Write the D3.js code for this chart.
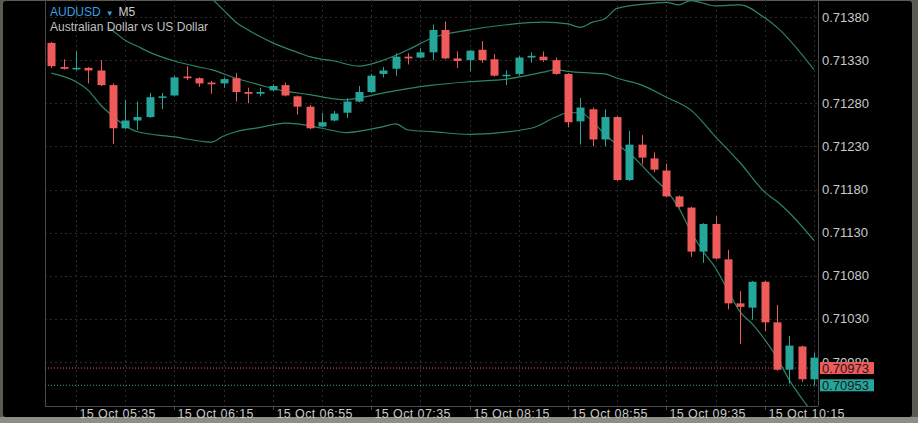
<!DOCTYPE html>
<html><head><meta charset="utf-8">
<script src="https://cdn.jsdelivr.net/npm/d3@7"></script>
<style>html,body{margin:0;padding:0;background:#000;overflow:hidden}svg{display:block}</style>
</head><body><svg id="c" width="918" height="423"></svg>
<script>
// ---------- DATA ----------
const symbol = "AUDUSD";
const timeframe = "M5";
const description = "Australian Dollar vs US Dollar";
const dateLabel = "15 Oct";
const times = ["05:25","05:30","05:35","05:40","05:45","05:50","05:55",
"06:00","06:05","06:10","06:15","06:20","06:25","06:30","06:35","06:40","06:45","06:50","06:55",
"07:00","07:05","07:10","07:15","07:20","07:25","07:30","07:35","07:40","07:45","07:50","07:55",
"08:00","08:05","08:10","08:15","08:20","08:25","08:30","08:35","08:40","08:45","08:50","08:55",
"09:00","09:05","09:10","09:15","09:20","09:25","09:30","09:35","09:40","09:45","09:50","09:55",
"10:00","10:05","10:10","10:15","10:20","10:25","10:30","10:35"];
const open = [0.71350,0.71322,0.71320,0.71321,0.71318,0.71301,0.71251,0.71260,0.71264,0.71287,
0.71289,0.71311,0.71309,0.71304,0.71303,0.71309,0.71293,0.71291,0.71295,0.71301,
0.71288,0.71276,0.71253,0.71260,0.71269,0.71282,0.71293,0.71314,0.71320,0.71334,
0.71333,0.71339,0.71365,0.71332,0.71330,0.71342,0.71331,0.71312,0.71314,0.71333,
0.71334,0.71330,0.71314,0.71259,0.71273,0.71238,0.71264,0.71191,0.71232,0.71216,
0.71202,0.71172,0.71159,0.71108,0.71140,0.71099,0.71048,0.71043,0.71073,0.71026,
0.70971,0.70998,0.70960];
const high = [0.71351,0.71331,0.71340,0.71322,0.71330,0.71303,0.71284,0.71282,0.71292,0.71292,
0.71312,0.71323,0.71310,0.71306,0.71310,0.71315,0.71298,0.71298,0.71302,0.71304,
0.71289,0.71278,0.71269,0.71271,0.71286,0.71300,0.71314,0.71322,0.71338,0.71338,
0.71344,0.71371,0.71375,0.71340,0.71342,0.71352,0.71337,0.71318,0.71335,0.71339,
0.71340,0.71333,0.71315,0.71286,0.71275,0.71273,0.71265,0.71248,0.71243,0.71223,
0.71210,0.71173,0.71160,0.71141,0.71149,0.71110,0.71062,0.71074,0.71074,0.71046,
0.71010,0.70999,0.70991];
const low = [0.71321,0.71319,0.71318,0.71303,0.71300,0.71233,0.71250,0.71249,0.71263,0.71273,
0.71288,0.71307,0.71299,0.71291,0.71298,0.71282,0.71280,0.71288,0.71294,0.71288,
0.71267,0.71250,0.71252,0.71259,0.71263,0.71281,0.71292,0.71310,0.71312,0.71325,
0.71332,0.71330,0.71331,0.71321,0.71317,0.71327,0.71311,0.71301,0.71312,0.71327,
0.71328,0.71313,0.71252,0.71232,0.71230,0.71230,0.71190,0.71190,0.71209,0.71200,
0.71171,0.71159,0.71102,0.71095,0.71099,0.71041,0.71001,0.71029,0.71016,0.70970,
0.70955,0.70957,0.70953];
const close = [0.71323,0.71320,0.71321,0.71318,0.71301,0.71251,0.71260,0.71264,0.71287,0.71288,
0.71310,0.71309,0.71303,0.71302,0.71308,0.71293,0.71291,0.71293,0.71300,0.71289,
0.71276,0.71251,0.71258,0.71268,0.71282,0.71293,0.71312,0.71318,0.71334,0.71332,
0.71339,0.71365,0.71332,0.71329,0.71341,0.71330,0.71312,0.71313,0.71333,0.71335,
0.71330,0.71314,0.71258,0.71275,0.71238,0.71264,0.71191,0.71232,0.71217,0.71203,
0.71172,0.71160,0.71108,0.71140,0.71100,0.71048,0.71044,0.71073,0.71026,0.70971,
0.70999,0.70960,0.70985];
// Bollinger band readings: [candle index, price]
const bbUpper = [[13,0.71402],[14,0.71388],[15,0.71374],[16,0.71365],[17,0.71357],[18,0.71350],
[20,0.71339],[21,0.71334],[23,0.71329],[25,0.71323],[27,0.71330],[29,0.71342],[31,0.71356],
[34,0.71365],[37,0.71371],[40,0.71374],[42,0.71372],[43,0.71368],[44,0.71374],[45,0.71378],
[46,0.71390],[49,0.71396],[50,0.71397],[51,0.71394],[52,0.71399],[54,0.71393],[56,0.71394],
[58,0.71379],[59,0.71368],[62,0.71319]];
const bbMiddle = [[4.6,0.71368],[5,0.71364],[6,0.71353],[7,0.71346],[8,0.71339],[10,0.71329],[12,0.71322],
[13,0.71319],[15,0.71309],[17,0.71301],[19,0.71294],[21,0.71290],[23,0.71285],[24,0.71284],
[25,0.71286],[27,0.71292],[29,0.71297],[31,0.71301],[34,0.71305],[37,0.71308],[40,0.71316],
[41,0.71319],[42,0.71317],[44,0.71315],[45,0.71314],[46,0.71309],[48,0.71301],[50,0.71287],
[52,0.71272],[54,0.71241],[56,0.71211],[58,0.71177],[59,0.71166],[60,0.71153],[62,0.71121]];
const bbLower = [[0,0.71315],[2,0.71305],[3,0.71295],[4,0.71278],[5,0.71265],[6,0.71254],
[7,0.71247],[10,0.71241],[13,0.71235],[14,0.71242],[15,0.71247],[17,0.71252],[19,0.71257],
[20,0.71256],[22,0.71251],[24,0.71246],[27,0.71253],[28,0.71256],[29,0.71249],[31,0.71247],
[34,0.71244],[39,0.71251],[41,0.71264],[42,0.71269],[43,0.71269],[44,0.71259],[45,0.71244],
[46,0.71232],[47,0.71222],[48,0.71208],[49,0.71193],[50,0.71179],[51,0.71159],[52,0.71131],
[53,0.71108],[54,0.71089],[55,0.71063],[56,0.71038],[57,0.71024],[58,0.71006],[59,0.70985],
[60,0.70959],[61,0.70938],[62,0.70919]];
const priceTicks = [0.71380,0.71330,0.71280,0.71230,0.71180,0.71130,0.71080,0.71030,0.70980];
const timeTicks = ["05:35","06:15","06:55","07:35","08:15","08:55","09:35","10:15"];
const askPrice = 0.70973;
const bidPrice = 0.70953;

// ---------- DRAW ----------
const W = 918, H = 423;
const L = 45, R = 818, T = 0, B = 406;
const svg = d3.select("#c");
const UP = "#26a69a", DN = "#ef5b5b", BAND = "#2e8566";
const FONT = "Liberation Sans, Arial, sans-serif";

// outer frame of screenshot
svg.append("rect").attr("width",W).attr("height",H).attr("fill","#5c5b52");
svg.append("rect").attr("x",0).attr("y",417).attr("width",W).attr("height",6).attr("fill","#8e8d86");
svg.append("rect").attr("x",3).attr("y",1).attr("width",909).attr("height",416).attr("rx",3).attr("fill","#000");

const x = d3.scaleLinear().domain([-0.52, 62.33]).range([L, R]);
const y = d3.scaleLinear().domain([0.70980, 0.71380]).range([362, 17]);

const defs = svg.append("defs");
defs.append("clipPath").attr("id","clip").append("rect").attr("x",L).attr("y",T).attr("width",R-L).attr("height",B-T);

// grid
const grid = svg.append("g").attr("stroke","#2c2c2c").attr("stroke-dasharray","2,3").attr("shape-rendering","crispEdges");
priceTicks.forEach(p => grid.append("line").attr("x1",L).attr("x2",R).attr("y1",Math.round(y(p))+0.5).attr("y2",Math.round(y(p))+0.5));
d3.range(2, times.length, 4).forEach(i => grid.append("line").attr("x1",Math.round(x(i))+0.5).attr("x2",Math.round(x(i))+0.5).attr("y1",T).attr("y2",B));

// frame lines
const fr = svg.append("g").attr("stroke","#4a4a4a").attr("shape-rendering","crispEdges");
fr.append("line").attr("x1",L+0.5).attr("x2",L+0.5).attr("y1",T).attr("y2",B);
fr.append("line").attr("x1",R+0.5).attr("x2",R+0.5).attr("y1",T).attr("y2",B);
fr.append("line").attr("x1",L).attr("x2",R).attr("y1",B+0.5).attr("y2",B+0.5);

// price lines
svg.append("line").attr("x1",L).attr("x2",R).attr("y1",y(askPrice)).attr("y2",y(askPrice))
  .attr("stroke",DN).attr("stroke-width",1).attr("stroke-dasharray","1,2");
svg.append("line").attr("x1",L).attr("x2",R).attr("y1",y(bidPrice)).attr("y2",y(bidPrice))
  .attr("stroke",UP).attr("stroke-width",1).attr("stroke-dasharray","1,2");

const plot = svg.append("g").attr("clip-path","url(#clip)");
const line = d3.line().x(d => x(d[0])).y(d => y(d[1])).curve(d3.curveMonotoneX);
[bbUpper, bbMiddle, bbLower].forEach(b => plot.append("path").attr("d", line(b))
  .attr("fill","none").attr("stroke",BAND).attr("stroke-width",1.2));

// candles
const cw = 8;
const candles = plot.selectAll("g.c").data(times.map((t,i)=>i)).join("g");
candles.append("line")
  .attr("x1", i => Math.round(x(i))+0.5).attr("x2", i => Math.round(x(i))+0.5)
  .attr("y1", i => y(high[i])).attr("y2", i => y(low[i]))
  .attr("stroke", i => close[i] >= open[i] ? UP : DN).attr("stroke-width",1);
candles.append("rect")
  .attr("x", i => Math.round(x(i)) - cw/2 + 0.5).attr("width", cw)
  .attr("y", i => y(Math.max(open[i], close[i])))
  .attr("height", i => Math.max(1.5, Math.abs(y(open[i]) - y(close[i]))))
  .attr("fill", i => close[i] >= open[i] ? UP : DN);

// y axis labels
const yl = svg.append("g").attr("font-family",FONT).attr("font-size","13px").attr("fill","#c9c9c9");
priceTicks.forEach(p => yl.append("text").attr("x",822).attr("y",y(p)+4.5).text(p.toFixed(5)));

// price boxes
[[askPrice, DN],[bidPrice, UP]].forEach(([p,c]) => {
  const yy = y(p);
  svg.append("rect").attr("x",820).attr("y",yy-6).attr("width",54).attr("height",12).attr("fill",c);
  svg.append("text").attr("x",822).attr("y",yy+4.5).attr("font-family",FONT)
    .attr("font-size","13px").attr("fill","#1a1a1a").text(p.toFixed(5));
});

// x axis
const xa = svg.append("g").attr("font-family",FONT).attr("font-size","12.5px").attr("fill","#c9c9c9");
timeTicks.forEach(t => {
  const i = times.indexOf(t);
  const xx = Math.round(x(i))+0.5;
  xa.append("line").attr("x1",xx).attr("x2",xx).attr("y1",B).attr("y2",B+4).attr("stroke","#4a4a4a");
  xa.append("text").attr("x",xx+3).attr("y",418).attr("letter-spacing","0.4px").text(dateLabel + " " + t);
});

// legend
const lg = svg.append("g").attr("font-family",FONT).attr("font-size","12px");
const t1 = lg.append("text").attr("x",50).attr("y",16);
t1.append("tspan").attr("fill","#3a9fe0").text(symbol);
t1.append("tspan").attr("fill","#3a9fe0").attr("font-size","8px").attr("dx","5").text("▼");
t1.append("tspan").attr("fill","#cfcfcf").attr("dx","5").text(timeframe);
lg.append("text").attr("x",50).attr("y",31).attr("fill","#c2c2c2").text(description);
</script></body></html>
